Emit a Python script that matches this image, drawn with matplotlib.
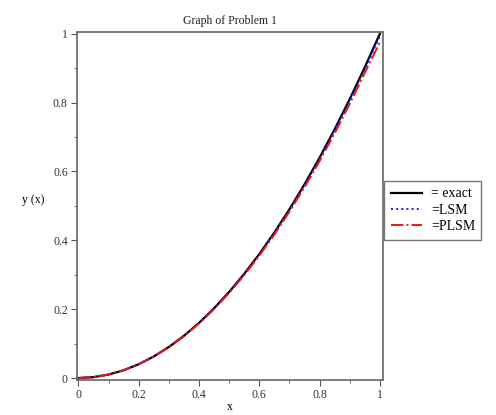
import numpy as np
import matplotlib.pyplot as plt
from matplotlib.ticker import MultipleLocator

x = [0.0, 0.05, 0.1, 0.15, 0.2, 0.25, 0.3, 0.35, 0.4, 0.45, 0.5,
     0.55, 0.6, 0.65, 0.7, 0.75, 0.8, 0.85, 0.9, 0.95, 1.0]
y_exact = [0.0, 0.0025, 0.01, 0.0225, 0.04, 0.0625, 0.09, 0.1225, 0.16, 0.2025, 0.25,
           0.3025, 0.36, 0.4225, 0.49, 0.5625, 0.64, 0.7225, 0.81, 0.9025, 1.0]
y_lsm = [0.0, 0.0026, 0.0101, 0.0225, 0.0399, 0.0623, 0.0897, 0.1221, 0.1594, 0.2017, 0.249,
         0.3012, 0.3584, 0.4205, 0.4874, 0.5594, 0.6362, 0.7181, 0.8049, 0.8966, 0.993]
y_plsm = [0.0, 0.0027, 0.0102, 0.0226, 0.0398, 0.062, 0.0892, 0.1213, 0.1582, 0.2001, 0.2469,
          0.2986, 0.3552, 0.4166, 0.4829, 0.5541, 0.63, 0.7108, 0.7963, 0.8866, 0.975]

plt.rcParams['font.family'] = ['Liberation Serif', 'DejaVu Serif']

fig = plt.figure(figsize=(4.96, 4.15), dpi=100)
ax = fig.add_axes([0.155, 0.085, 0.617, 0.838])

ax.plot(x, y_exact, color='black', lw=1.6, label='= exact')
ax.plot(x, y_lsm, color='#1a1aff', lw=1.4, ls=':', label='=LSM')
ax.plot(x, y_plsm, color='#e8161b', lw=1.4, ls='-.', label='=PLSM')

ax.set_xlim(-0.005, 1.01)
ax.set_ylim(-0.005, 1.005)
ax.xaxis.set_major_locator(MultipleLocator(0.2))
ax.xaxis.set_minor_locator(MultipleLocator(0.1))
ax.yaxis.set_major_locator(MultipleLocator(0.2))
ax.yaxis.set_minor_locator(MultipleLocator(0.1))
fmt = plt.FuncFormatter(lambda v, p: '%g' % round(v, 2))
ax.xaxis.set_major_formatter(fmt)
ax.yaxis.set_major_formatter(fmt)
ax.tick_params(which='both', direction='out', colors='#555555', labelcolor='#333333', labelsize=8.5)
ax.tick_params(which='major', length=4, pad=2.5)
ax.tick_params(which='minor', length=2)
for s in ax.spines.values():
    s.set_color('#666666')
    s.set_linewidth(1.2)

ax.set_title('Graph of Problem 1', fontsize=8.5, color='#222222', pad=6)
ax.set_xlabel('x', fontsize=8.5, labelpad=0)
ax.set_ylabel('y (x)', fontsize=8.5, rotation=0, labelpad=14)

leg = ax.legend(loc='center left', bbox_to_anchor=(1.0, 0.487), fontsize=10,
                frameon=True, fancybox=False, edgecolor='#555555',
                borderaxespad=0.1, handlelength=2.3, borderpad=0.45,
                labelspacing=0.25, handletextpad=0.6)
leg.get_frame().set_linewidth(1.0)

fig.savefig('out.png', dpi=100)
